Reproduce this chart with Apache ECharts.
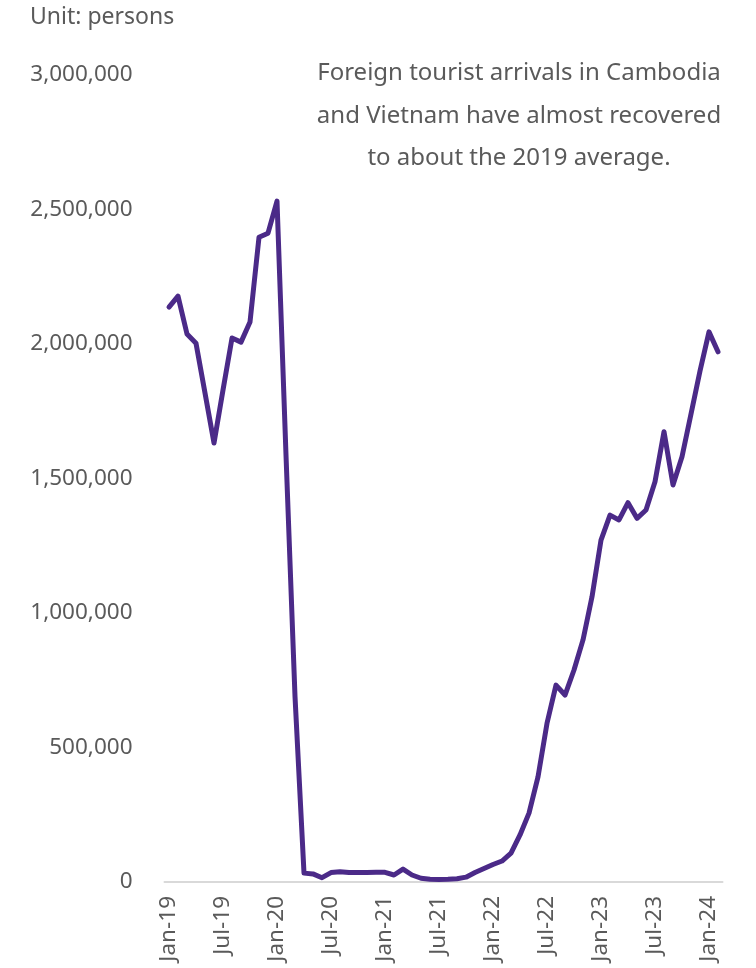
<!DOCTYPE html>
<html>
<head>
<meta charset="utf-8">
<script src="https://cdn.jsdelivr.net/npm/echarts@6/dist/echarts.min.js"></script>
<style>
  html, body { margin: 0; padding: 0; background: #fff; }
  #chart { width: 756px; height: 968px; }
</style>
</head>
<body>
<div id="chart"></div>
<script>
// Monthly foreign tourist arrivals, Jan-19 .. Feb-24 (persons)
const months = [
  'Jan-19','Feb-19','Mar-19','Apr-19','May-19','Jun-19','Jul-19','Aug-19','Sep-19','Oct-19','Nov-19','Dec-19',
  'Jan-20','Feb-20','Mar-20','Apr-20','May-20','Jun-20','Jul-20','Aug-20','Sep-20','Oct-20','Nov-20','Dec-20',
  'Jan-21','Feb-21','Mar-21','Apr-21','May-21','Jun-21','Jul-21','Aug-21','Sep-21','Oct-21','Nov-21','Dec-21',
  'Jan-22','Feb-22','Mar-22','Apr-22','May-22','Jun-22','Jul-22','Aug-22','Sep-22','Oct-22','Nov-22','Dec-22',
  'Jan-23','Feb-23','Mar-23','Apr-23','May-23','Jun-23','Jul-23','Aug-23','Sep-23','Oct-23','Nov-23','Dec-23',
  'Jan-24','Feb-24'
];

const arrivals = [
  2137000, 2178000, 2037000, 2003000, 1818000, 1632000, 1829000, 2022000, 2007000, 2082000, 2397000, 2412000,
  2531000, 1587000,  690000,   33000,   30000,   16000,   35000,   38000,   35000,   35000,   35000,   36000,
    36000,   26000,   48000,   26000,   14000,   10000,    9000,   10000,   12000,   18000,   35000,   50000,
    65000,   78000,  107000,  175000,  256000,  391000,  590000,  732000,  695000,  788000,  900000, 1060000,
  1271000, 1364000, 1346000, 1410000, 1352000, 1383000, 1488000, 1674000, 1476000, 1581000, 1740000, 1900000,
  2045000, 1971000
];

const yMax = 3000000;
const yStep = 500000;

const unitText = 'Unit: persons';
const noteLines = [
  'Foreign tourist arrivals in Cambodia',
  'and Vietnam have almost recovered',
  'to about the 2019 average.'
];

const FONT = '"Noto Sans", sans-serif';
const TEXT_COLOR = '#5a5a5a';

const chart = echarts.init(document.getElementById('chart'), null, { renderer: 'canvas' });

chart.setOption({
  backgroundColor: '#ffffff',
  animation: false,
  grid: { left: 164.5, right: 33.5, top: 75, bottom: 86, containLabel: false },
  xAxis: {
    type: 'category',
    data: months,
    boundaryGap: true,
    axisLine: { show: true, lineStyle: { color: '#d9d9d9', width: 2 } },
    axisTick: { show: false },
    splitLine: { show: false },
    axisLabel: {
      interval: 5,
      rotate: 90,
      margin: 14,
      color: TEXT_COLOR,
      fontFamily: FONT,
      fontSize: 22.5
    }
  },
  yAxis: {
    type: 'value',
    min: 0,
    max: yMax,
    interval: yStep,
    axisLine: { show: false },
    axisTick: { show: false },
    splitLine: { show: false },
    axisLabel: {
      margin: 32,
      color: TEXT_COLOR,
      fontFamily: FONT,
      fontSize: 22.5,
      formatter: v => v.toLocaleString('en-US')
    }
  },
  series: [{
    type: 'line',
    data: arrivals,
    showSymbol: false,
    symbol: 'none',
    smooth: false,
    lineStyle: { color: '#4b2a88', width: 5, join: 'round', cap: 'round' }
  }],
  graphic: [
    {
      type: 'text',
      left: 30,
      top: 6,
      style: {
        text: unitText,
        fill: TEXT_COLOR,
        font: '23px ' + FONT
      }
    },
    {
      type: 'text',
      x: 519,
      y: 52,
      style: {
        text: noteLines.join('\n'),
        fill: TEXT_COLOR,
        font: '24px ' + FONT,
        align: 'center',
        verticalAlign: 'top',
        lineHeight: 42.5
      }
    }
  ]
});
</script>
</body>
</html>
